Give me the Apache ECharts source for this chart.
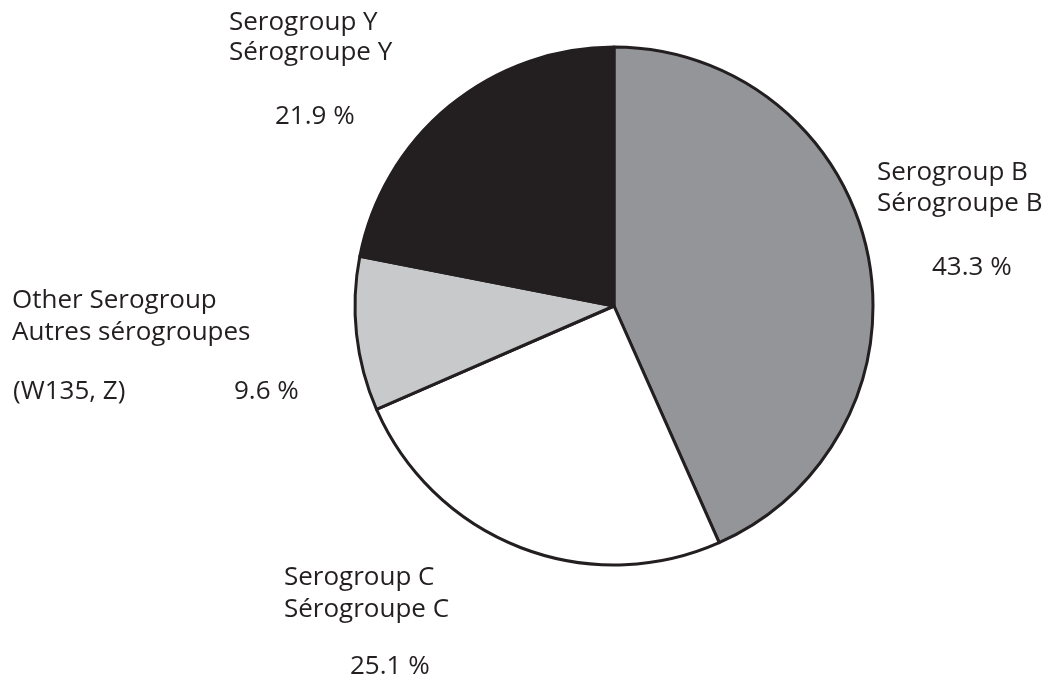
<!DOCTYPE html>
<html lang="en">
<head>
    <meta charset="UTF-8">
    <title>serogroups pie</title>
    <script src="https://cdn.jsdelivr.net/npm/echarts@6/dist/echarts.min.js"></script>
</head>
<body style="margin:0">
<div id="main" style="width:1062px;height:685px"></div>
<script>
    // data
    var names = ['Serogroup B', 'Serogroup C', 'Other Serogroup', 'Serogroup Y'];
    var namesFr = ['Sérogroupe B', 'Sérogroupe C', 'Autres sérogroupes', 'Sérogroupe Y'];
    var values = [43.3, 25.1, 9.6, 21.9];
    var colors = ['#939598', '#ffffff', '#c8c9cb', '#231f20'];

    // label layout: [x name, y line 1, y line 2, x value, y value]
    var labelPos = [
        [877, 173, 204, 932, 268],
        [284, 578, 610, 350, 667],
        [12, 301, 333, 234, 392],
        [229, 23, 53, 275, 117]
    ];

    var font = '"Open Sans", sans-serif';
    var textColor = '#231f20';
    var fs = 26;

    function txt(s, x, y) {
        return {
            type: 'text', x: x, y: y,
            style: { text: s, font: fs + 'px ' + font, fill: textColor, verticalAlign: 'middle' }
        };
    }

    var graphics = [];
    names.forEach(function (n, i) {
        var p = labelPos[i];
        graphics.push(txt(n, p[0], p[1]));
        graphics.push(txt(namesFr[i], p[0], p[2]));
        graphics.push(txt(values[i].toFixed(1) + ' %', p[3], p[4]));
    });
    // extra note under "Other"
    graphics.push(txt('(W135, Z)', 13, 392));

    var myChart = echarts.init(document.getElementById('main'));
    myChart.setOption({
        animation: false,
        backgroundColor: '#fff',
        series: [{
            type: 'pie',
            center: [614, 306],
            radius: 259,
            startAngle: 90,
            clockwise: true,
            label: { show: false },
            labelLine: { show: false },
            emphasis: { disabled: true },
            itemStyle: { borderColor: '#231f20', borderWidth: 3 },
            data: names.map(function (n, i) {
                return { name: n, value: values[i], itemStyle: { color: colors[i] } };
            })
        }],
        graphic: graphics
    });
</script>
</body>
</html>
